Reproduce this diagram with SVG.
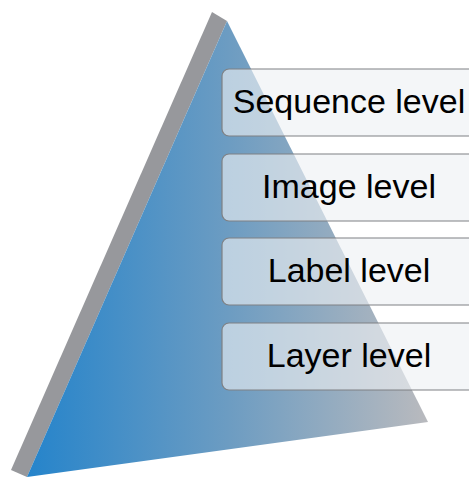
<svg xmlns="http://www.w3.org/2000/svg" width="469" height="478" viewBox="0 0 469 478">
<defs>
<linearGradient id="face" gradientUnits="userSpaceOnUse" x1="27" y1="0" x2="428" y2="0">
<stop offset="0" stop-color="#2584cb"/>
<stop offset="0.5" stop-color="#6c9cc2"/>
<stop offset="1" stop-color="#b9babe"/>
</linearGradient>
<style>
.box{fill:#eef0f3;fill-opacity:0.62;stroke:#7e8084;stroke-width:1.2}
.lbl{font-family:"Liberation Sans",Arial,sans-serif;font-size:34px;fill:#000;text-anchor:middle}
</style>
</defs>
<g id="pyramid">
<polygon points="212,12 227,21 27,477 11,470" fill="#97989c"/>
<polygon points="227,21 428,422 27,477" fill="url(#face)"/>
</g>
<g id="connectors"/>
<g id="sequence">
<rect class="box" x="222" y="69" width="262" height="67" rx="7"/>
<text class="lbl" x="349" y="113">Sequence level</text>
</g>
<g id="image">
<rect class="box" x="222" y="154" width="262" height="67" rx="7"/>
<text class="lbl" x="349" y="198">Image level</text>
</g>
<g id="label">
<rect class="box" x="222" y="238" width="262" height="67" rx="7"/>
<text class="lbl" x="349" y="282">Label level</text>
</g>
<g id="layer">
<rect class="box" x="222" y="323" width="262" height="67" rx="7"/>
<text class="lbl" x="349" y="367">Layer level</text>
</g>
</svg>
